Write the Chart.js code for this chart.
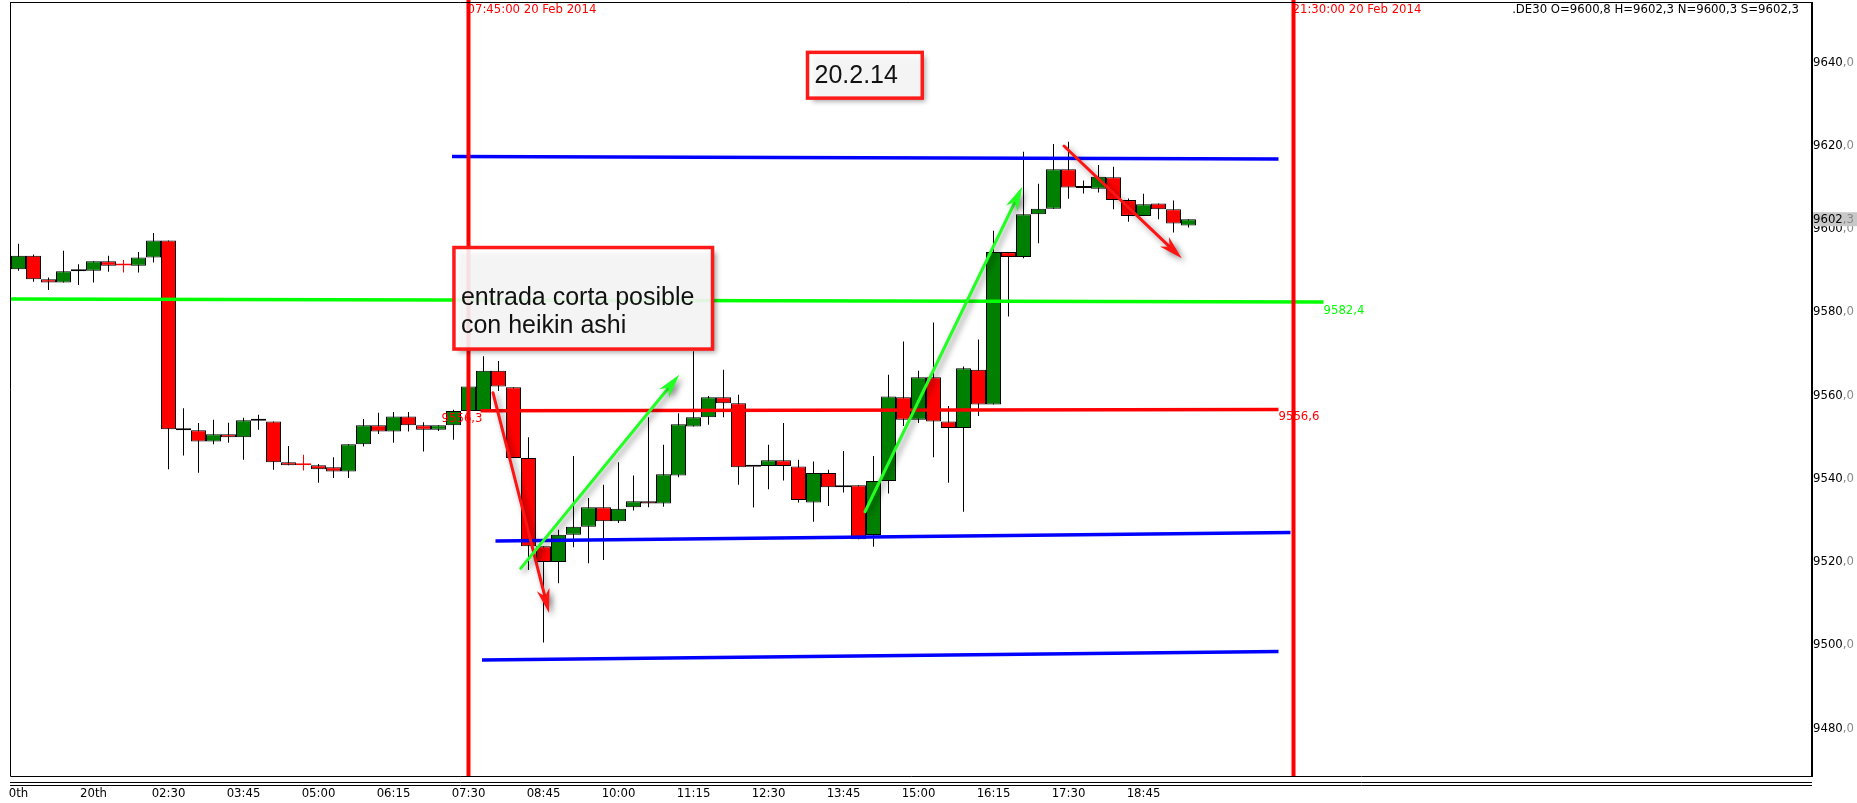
<!DOCTYPE html>
<html>
<head>
<meta charset="utf-8">
<script src="https://cdn.jsdelivr.net/npm/chart.js@4.4.1/dist/chart.umd.min.js"></script>
<style>
  html, body { margin: 0; padding: 0; background: #fff; overflow: hidden; }
  canvas { display: block; }
</style>
</head>
<body>
<canvas id="chart" width="1857" height="803"></canvas>
<script>
// Velas de 15 min (.DE30, 20 Feb 2014), indice 0 = 00:00
const opens  = [9590.3, 9593.5, 9587.9, 9587.1, 9589.9, 9589.9, 9592.2, 9591.2, 9591.1, 9593.1,
                9597.2, 9551.7, 9551.6, 9548.9, 9550.6, 9549.9, 9554.0, 9553.7, 9543.9, 9543.2,
                9543.2, 9542.7, 9541.7, 9548.2, 9552.8, 9551.3, 9554.9, 9552.8, 9551.7, 9552.8,
                9556.2, 9556.2, 9565.9, 9561.9, 9544.9, 9523.7, 9519.9, 9526.5, 9528.4, 9533.1,
                9529.7, 9533.1, 9534.5, 9534.0, 9540.7, 9552.5, 9554.7, 9559.5, 9558.1, 9542.9,
                9543.0, 9544.4, 9542.9, 9534.2, 9541.3, 9537.9, 9538.4, 9526.4, 9539.4, 9559.5,
                9554.1, 9564.3, 9553.7, 9552.1, 9566.1, 9557.8, 9594.4, 9593.2, 9603.5, 9604.8,
                9614.3, 9609.9, 9609.6, 9612.4, 9606.9, 9603.1, 9606.1, 9604.7, 9600.8];
const highs  = [9596.4, 9593.8, 9588.3, 9594.7, 9591.5, 9592.2, 9593.5, 9592.5, 9594.4, 9599.0,
                9597.2, 9556.9, 9553.3, 9554.1, 9553.4, 9554.6, 9555.3, 9553.7, 9547.8, 9545.7,
                9543.5, 9545.1, 9548.2, 9554.3, 9555.8, 9556.0, 9556.0, 9553.5, 9552.8, 9556.5,
                9562.1, 9569.4, 9568.2, 9561.9, 9549.9, 9523.7, 9527.7, 9545.4, 9535.3, 9538.5,
                9543.9, 9540.7, 9554.7, 9548.1, 9555.7, 9570.6, 9559.8, 9566.1, 9560.1, 9542.9,
                9548.1, 9553.3, 9544.5, 9544.1, 9542.1, 9546.6, 9538.4, 9545.4, 9564.9, 9572.9,
                9565.9, 9577.5, 9557.4, 9566.9, 9573.4, 9599.5, 9594.4, 9618.5, 9610.8, 9620.4,
                9620.9, 9611.6, 9615.3, 9614.9, 9607.3, 9608.4, 9606.1, 9606.8, 9602.3];
const lows   = [9589.9, 9587.3, 9585.3, 9587.1, 9586.5, 9587.1, 9589.7, 9589.5, 9589.5, 9591.9,
                9542.2, 9545.5, 9541.4, 9548.2, 9548.6, 9544.5, 9551.7, 9542.1, 9543.2, 9541.9,
                9539.0, 9540.1, 9540.1, 9547.7, 9550.7, 9548.6, 9551.3, 9546.5, 9551.4, 9549.3,
                9556.2, 9556.2, 9561.0, 9544.9, 9518.0, 9500.6, 9514.8, 9523.5, 9519.6, 9520.4,
                9529.3, 9532.3, 9533.1, 9533.2, 9540.3, 9552.5, 9552.9, 9554.7, 9538.5, 9533.0,
                9537.4, 9539.5, 9534.2, 9529.6, 9533.4, 9536.6, 9525.4, 9523.6, 9536.4, 9552.6,
                9553.3, 9545.1, 9539.0, 9532.0, 9555.0, 9557.8, 9578.9, 9592.9, 9596.5, 9604.8,
                9607.2, 9608.5, 9608.7, 9604.7, 9601.7, 9603.1, 9602.3, 9599.1, 9600.3];
const closes = [9593.5, 9587.9, 9587.1, 9589.8, 9589.8, 9592.2, 9591.1, 9591.2, 9593.1, 9597.2,
                9551.8, 9551.6, 9548.9, 9550.6, 9549.9, 9554.0, 9553.9, 9543.9, 9543.2, 9543.2,
                9542.2, 9541.7, 9548.2, 9552.8, 9551.3, 9554.9, 9552.8, 9551.7, 9552.8, 9556.2,
                9562.1, 9565.9, 9562.1, 9544.9, 9523.7, 9519.9, 9526.5, 9528.4, 9533.1, 9529.7,
                9532.7, 9534.5, 9534.0, 9541.0, 9553.0, 9554.7, 9559.5, 9558.1, 9542.7, 9542.8,
                9544.4, 9543.0, 9534.8, 9541.3, 9537.9, 9538.2, 9525.4, 9539.4, 9559.7, 9554.1,
                9564.3, 9553.7, 9552.1, 9566.5, 9557.8, 9594.4, 9593.2, 9603.5, 9604.8, 9614.3,
                9609.9, 9609.8, 9612.5, 9606.9, 9603.1, 9605.9, 9604.7, 9601.3, 9602.3];

// Eje X: etiquetas cada 5 velas
const xTickIdx    = [0, 5, 10, 15, 20, 25, 30, 35, 40, 45, 50, 55, 60, 65, 70, 75];
const xTickLabels = ['0th', '20th', '02:30', '03:45', '05:00', '06:15', '07:30', '08:45',
                     '10:00', '11:15', '12:30', '13:45', '15:00', '16:15', '17:30', '18:45'];
// Eje Y
const yTicks = [9480, 9500, 9520, 9540, 9560, 9580, 9600, 9620, 9640];

// Niveles dibujados (indice de vela, precio)
const greenLevel  = [[-0.7, 9583.1], [87.0, 9582.4]];
const redLevel    = [[30.8, 9556.3], [84.0, 9556.6]];
const blueTop     = [[28.9, 9617.4], [84.0, 9616.8]];
const blueMid     = [[31.8, 9525.0], [84.8, 9527.0]];
const blueLow     = [[30.9, 9496.4], [84.0, 9498.4]];

// Lineas verticales
const vLineIdx  = [30, 85];
const vLineText = ['07:45:00 20 Feb 2014', '21:30:00 20 Feb 2014'];

const NARROW = '"DejaVu Sans Condensed", "Liberation Sans Narrow", sans-serif';
const SANS = '"Liberation Sans", Arial, sans-serif';
const SMALL = '13px ' + NARROW;
const fmt = v => v.toFixed(1).replace('.', ',');

const barIdx = opens.map((_, i) => i);
const isCross = i => opens[i] === closes[i];
const bodyColor = i => isCross(i) ? '#ff0000' : (closes[i] > opens[i] ? '#008000' : '#ff0000');
const bodyBorder = i => isCross(i) ? '#ff0000' : '#000000';
const wickColor = i => isCross(i) ? '#ff0000' : '#000000';

const levelDs = (pts, color) => ({
    type: 'line',
    data: pts.map(p => ({ x: p[0], y: p[1] })),
    borderColor: color,
    borderWidth: 3.5,
    pointRadius: 0,
    order: 0
});

function drawArrow(ctx, x1, y1, x2, y2, color) {
    const a = Math.atan2(y2 - y1, x2 - x1);
    const c = Math.cos(a), s = Math.sin(a);
    const len = 24, w = 6.5;
    ctx.save();
    ctx.shadowColor = 'rgba(0,0,0,0.45)';
    ctx.shadowBlur = 6;
    ctx.shadowOffsetX = 3;
    ctx.shadowOffsetY = 3;
    ctx.strokeStyle = color;
    ctx.fillStyle = color;
    ctx.lineWidth = 3;
    ctx.lineCap = 'round';
    ctx.beginPath();
    ctx.moveTo(x1, y1);
    ctx.lineTo(x2 - c * len * 0.6, y2 - s * len * 0.6);
    ctx.stroke();
    ctx.beginPath();
    ctx.moveTo(x2, y2);
    ctx.lineTo(x2 - c * len - s * w, y2 - s * len + c * w);
    ctx.lineTo(x2 - c * len * 0.7, y2 - s * len * 0.7);
    ctx.lineTo(x2 - c * len + s * w, y2 - s * len - c * w);
    ctx.closePath();
    ctx.fill();
    ctx.restore();
}

function drawBox(ctx, x1, y1, x2, y2, lines, baseOff) {
    ctx.save();
    ctx.shadowColor = 'rgba(0,0,0,0.4)';
    ctx.shadowBlur = 5;
    ctx.shadowOffsetX = 4;
    ctx.shadowOffsetY = 4;
    ctx.fillStyle = 'rgba(255,255,255,0.88)';
    ctx.fillRect(x1, y1, x2 - x1, y2 - y1);
    ctx.restore();
    ctx.save();
    ctx.strokeStyle = '#ff1a1a';
    ctx.lineWidth = 3.5;
    ctx.strokeRect(x1, y1, x2 - x1, y2 - y1);
    ctx.fillStyle = '#111';
    ctx.font = '25px ' + SANS;
    ctx.textBaseline = 'alphabetic';
    lines.forEach((t, i) => ctx.fillText(t, x1 + 7, y1 + baseOff + i * 28));
    ctx.restore();
}

const overlay = {
    id: 'overlay',
    afterDatasetsDraw(chart) {
        const { ctx, chartArea: ca, scales: { x, y } } = chart;
        ctx.save();
        // Lineas verticales rojas
        vLineIdx.forEach((k, i) => {
            const px = x.getPixelForValue(k);
            ctx.font = SMALL;
            ctx.fillStyle = '#ff0000';
            ctx.textBaseline = 'middle';
            ctx.textAlign = 'left';
            ctx.fillText(vLineText[i], px - 1, 10);
            ctx.fillRect(px - 2, 0, 4, ca.bottom);
        });
        // Etiquetas de niveles
        ctx.font = SMALL;
        ctx.textBaseline = 'middle';
        ctx.fillStyle = '#00ff00';
        ctx.textAlign = 'left';
        ctx.fillText(fmt(greenLevel[1][1]), x.getPixelForValue(greenLevel[1][0]), y.getPixelForValue(greenLevel[1][1]) + 9);
        ctx.fillStyle = '#ff0000';
        ctx.fillText(fmt(redLevel[1][1]), x.getPixelForValue(redLevel[1][0]), y.getPixelForValue(redLevel[1][1]) + 7);
        ctx.textAlign = 'right';
        ctx.fillText(fmt(redLevel[0][1]), x.getPixelForValue(redLevel[0][0]) + 2, y.getPixelForValue(redLevel[0][1]) + 8);
        ctx.restore();

        // Cuadros de texto
        const bx = (k) => x.getPixelForValue(k), by = (v) => y.getPixelForValue(v);
        drawBox(ctx, bx(52.6), by(9642.4), bx(60.25), by(9631.4), ['20.2.14'], 31);
        drawBox(ctx, bx(29.03), by(9595.5), bx(46.27), by(9571.1), ['entrada corta posible', 'con heikin ashi'], 57);

        // Flechas
        const arrows = [
            { from: [31.63, 9560.6], to: [35.37, 9507.7], color: '#ff1414' },
            { from: [33.48, 9518.4], to: [44.05, 9564.9], color: '#22ff22' },
            { from: [56.43, 9532.0], to: [66.92, 9610.1], color: '#22ff22' },
            { from: [69.7, 9619.9], to: [77.55, 9592.9], color: '#ff1414' }
        ];
        arrows.forEach(a => drawArrow(ctx, bx(a.from[0]), by(a.from[1]), bx(a.to[0]), by(a.to[1]), a.color));
    },
    afterDraw(chart) {
        const { ctx, chartArea: ca, scales: { y } } = chart;
        ctx.save();
        // Marco del grafico
        ctx.strokeStyle = '#000';
        ctx.lineWidth = 1;
        ctx.beginPath();
        ctx.moveTo(ca.left + 0.5, ca.top + 0.5);
        ctx.lineTo(ca.right, ca.top + 0.5);
        ctx.moveTo(ca.left + 0.5, ca.top);
        ctx.lineTo(ca.left + 0.5, ca.bottom + 0.5);
        ctx.lineTo(ca.right + 1, ca.bottom + 0.5);
        ctx.moveTo(ca.left, ca.bottom + 6.5);
        ctx.lineTo(ca.right + 1, ca.bottom + 6.5);
        ctx.moveTo(ca.left, ca.bottom + 9.5);
        ctx.lineTo(ca.right + 1, ca.bottom + 9.5);
        ctx.stroke();
        ctx.lineWidth = 2;
        ctx.beginPath();
        ctx.moveTo(ca.right + 1, ca.top);
        ctx.lineTo(ca.right + 1, ca.bottom + 1);
        ctx.stroke();

        // Decimales grises del eje Y
        ctx.font = SMALL;
        ctx.textBaseline = 'middle';
        ctx.textAlign = 'left';
        const lx = ca.right + 2;
        yTicks.forEach(v => {
            const w = ctx.measureText(String(v)).width;
            ctx.fillStyle = '#8a8a8a';
            ctx.fillText(',0', lx + w, y.getPixelForValue(v));
        });

        // Precio actual
        const last = closes[closes.length - 1];
        const py = y.getPixelForValue(last);
        const ip = String(Math.trunc(last));
        ctx.fillStyle = '#c8c8c8';
        ctx.fillRect(lx, py - 7, chart.width - lx, 14);
        ctx.fillStyle = '#000';
        ctx.fillText(ip, lx, py);
        ctx.fillStyle = '#8a8a8a';
        ctx.fillText(',' + fmt(last).split(',')[1], lx + ctx.measureText(ip).width, py);

        // Cabecera OHLC
        const n = closes.length - 1;
        ctx.fillStyle = '#000';
        ctx.textAlign = 'right';
        ctx.fillText('.DE30 O=' + fmt(opens[n]) + ' H=' + fmt(highs[n]) + ' N=' + fmt(lows[n]) + ' S=' + fmt(closes[n]), 1799, 10);
        ctx.restore();
    }
};

const tickFont = { family: NARROW, size: 13 };

new Chart(document.getElementById('chart').getContext('2d'), {
    type: 'bar',
    data: {
        datasets: [
            levelDs(greenLevel, '#00ff00'),
            levelDs(redLevel, '#ff0000'),
            levelDs(blueTop, '#0000ff'),
            levelDs(blueMid, '#0000ff'),
            levelDs(blueLow, '#0000ff'),
            {
                label: 'cuerpo',
                data: barIdx.map(i => ({ x: i, y: [opens[i], closes[i]] })),
                backgroundColor: barIdx.map(bodyColor),
                borderColor: barIdx.map(bodyBorder),
                borderWidth: 1,
                borderSkipped: false,
                barThickness: 15,
                minBarLength: 2,
                grouped: false,
                inflateAmount: 0,
                order: 1
            },
            {
                label: 'mecha',
                data: barIdx.map(i => ({ x: i, y: [lows[i], highs[i]] })),
                backgroundColor: barIdx.map(wickColor),
                borderWidth: 0,
                barThickness: 1,
                grouped: false,
                inflateAmount: 0,
                order: 2
            }
        ]
    },
    options: {
        responsive: false,
        animation: false,
        devicePixelRatio: 1,
        layout: { padding: { left: 10, top: 2, right: 0, bottom: 0 } },
        plugins: { legend: { display: false }, tooltip: { enabled: false } },
        scales: {
            x: {
                type: 'linear',
                min: -0.5667,
                max: 119.5,
                offset: false,
                grid: { display: false, drawTicks: false },
                border: { display: false },
                afterFit: s => { s.height = 27; s.paddingLeft = 0; s.paddingRight = 0; },
                afterBuildTicks: s => { s.ticks = xTickIdx.map(v => ({ value: v })); },
                ticks: {
                    autoSkip: false,
                    maxRotation: 0,
                    padding: 10,
                    color: '#000',
                    font: tickFont,
                    callback: (v, i) => xTickLabels[i]
                }
            },
            y: {
                position: 'right',
                min: 9468.5,
                max: 9654.5,
                grid: { display: false, drawTicks: false },
                border: { display: false },
                afterFit: s => { s.width = 46; s.paddingTop = 0; s.paddingBottom = 0; },
                afterBuildTicks: s => { s.ticks = yTicks.map(v => ({ value: v })); },
                ticks: {
                    padding: 2,
                    color: '#000',
                    font: tickFont,
                    callback: v => String(v)
                }
            }
        }
    },
    plugins: [overlay]
});
</script>
</body>
</html>
